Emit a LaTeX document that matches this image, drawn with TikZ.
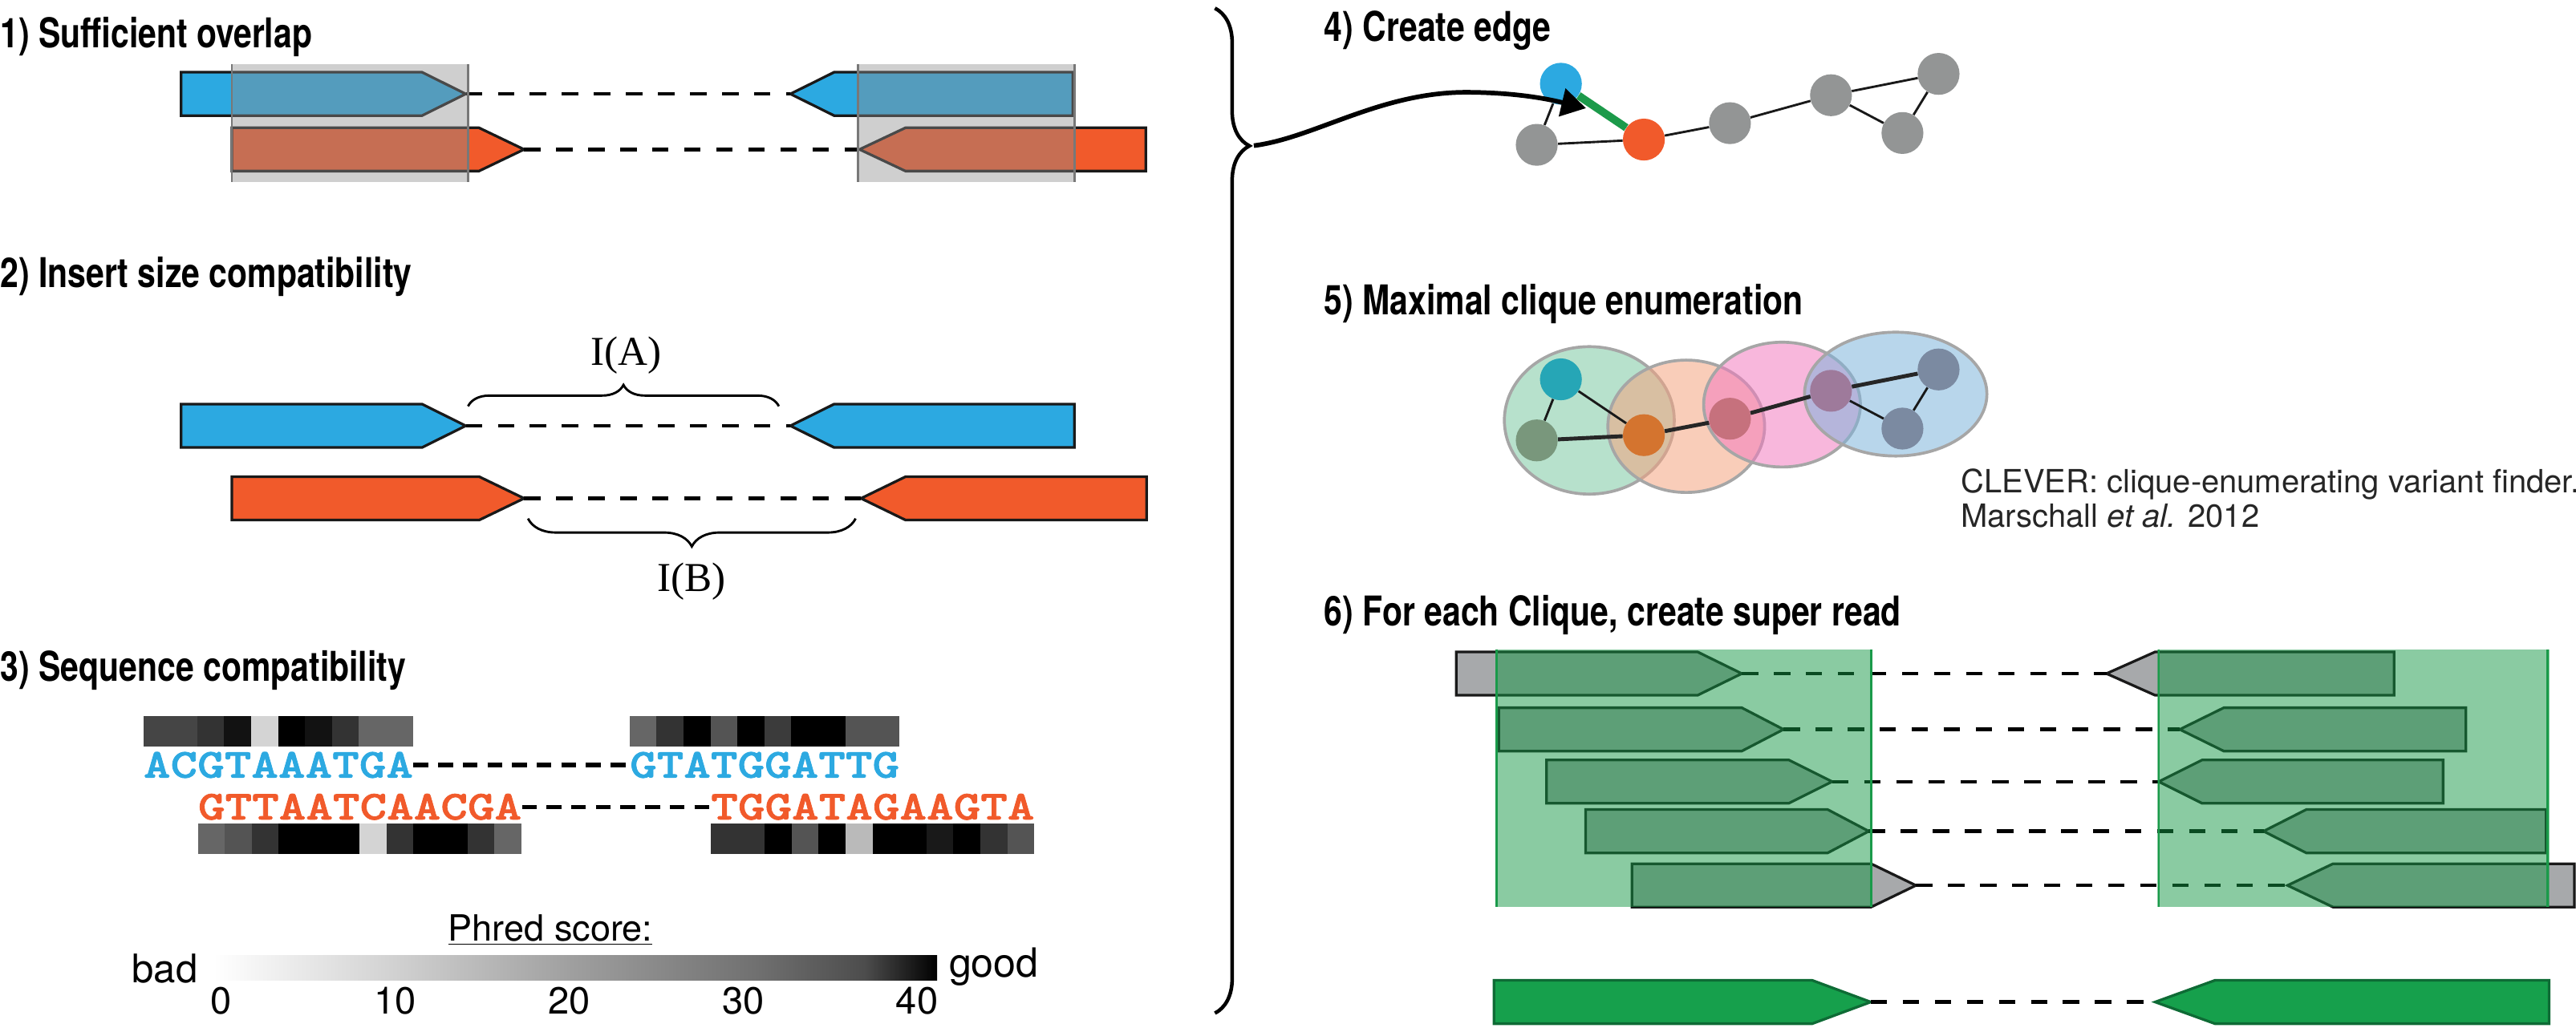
\documentclass[tikz,border=0pt]{standalone}
\usepackage{fontspec}
\usetikzlibrary{arrows.meta, decorations.pathreplacing}

\newfontfamily\titlefont{TeX Gyre Heros}[FakeStretch=0.8]
\newfontfamily\labelfont{TeX Gyre Heros}
\newfontfamily\insertfont{Liberation Serif}
\newfontfamily\seqfont{lmmonolt10-bold.otf}[FakeStretch=1.25, FakeBold=1.6]

\definecolor{readblue}{RGB}{44,169,225}
\definecolor{readorange}{RGB}{241,90,43}
\definecolor{readgray}{RGB}{167,169,171}
\definecolor{readline}{RGB}{25,25,25}
\definecolor{overlapgray}{RGB}{140,140,140}
\definecolor{cliquegreen}{RGB}{21,151,69}
\definecolor{bgline}{RGB}{26,154,74}
\definecolor{superfill}{RGB}{22,160,76}
\definecolor{superline}{RGB}{14,107,53}
\definecolor{nodegray}{RGB}{147,149,149}
\definecolor{edgegreen}{RGB}{28,154,74}
\definecolor{cliqueA}{RGB}{124,200,162}
\definecolor{cliqueB}{RGB}{244,164,128}
\definecolor{cliqueC}{RGB}{242,124,191}
\definecolor{cliqueD}{RGB}{126,180,219}
\definecolor{teal}{RGB}{38,166,182}
\definecolor{sage}{RGB}{121,151,124}
\definecolor{rust}{RGB}{212,116,47}
\definecolor{rose}{RGB}{198,113,125}
\definecolor{mauve}{RGB}{158,122,155}
\definecolor{slate}{RGB}{123,138,161}

\pgfdeclarehorizontalshading{phred}{100bp}{color(0bp)=(white); color(25bp)=(white);
  color(37.5bp)=(black!18); color(50bp)=(black!38); color(62.5bp)=(black!56);
  color(70bp)=(black!70); color(75bp)=(black); color(100bp)=(black)}

% reads: style, start x, tip x, y, head length, tip name
\newcommand{\fwdread}[6]{%
  \draw[#1] (#2,#4-13.2) -- (#3-#5,#4-13.2) -- (#3,#4) -- (#3-#5,#4+13.2) -- (#2,#4+13.2) -- cycle;
  \coordinate (#6) at (#3,#4);}
% reads: style, tip x, end x, y, head length, tip name
\newcommand{\revread}[6]{%
  \draw[#1] (#2,#4) -- (#2+#5,#4-13.2) -- (#3,#4-13.2) -- (#3,#4+13.2) -- (#2+#5,#4+13.2) -- cycle;
  \coordinate (#6) at (#2,#4);}

\begin{document}
\begin{tikzpicture}[
    x=1pt, y=-1pt,
    title/.style={font=\titlefont\bfseries\fontsize{25}{30}\selectfont, inner sep=0pt, anchor=base west},
    note/.style={font=\labelfont\fontsize{19.5}{23}\selectfont, inner sep=0pt, anchor=base west, text=black!85},
    ticklabel/.style={font=\labelfont\fontsize{23}{27}\selectfont, inner sep=0pt, anchor=base},
    seq/.style={font=\seqfont\fontsize{25}{30}\selectfont, inner sep=0pt, anchor=base west},
    read/.style={draw=readline, line width=1.6pt, line join=miter},
    superread/.style={read, draw=superline, fill=superfill},
    dashlink/.style={line width=2.2pt, dash pattern=on 10pt off 9.5pt},
    seqlink/.style={line width=2.6pt, dash pattern=on 9pt off 6pt},
    overlapbox/.style={fill=overlapgray, fill opacity=0.42},
    overlapedge/.style={draw=black!53, line width=1.2pt},
    cliquebox/.style={fill=cliquegreen, fill opacity=0.5},
    cliqueedge/.style={draw=bgline, line width=1.3pt},
    curly/.style={decorate, decoration={brace, amplitude=#1}},
    gnode/.style={circle, minimum size=25.5pt, inner sep=0pt},
    gedge/.style={line width=1.4pt, black!90},
    thickedge/.style={line width=2.4pt, black!85},
    clique/.style={draw=black!35, line width=1.8pt, fill opacity=0.55},
]
\useasboundingbox (0,0) rectangle (1568,628);

% --- 1) Sufficient overlap
\node[title] (t1) at (0,29.3) {1) Sufficient overlap};
\fwdread{read, fill=readblue}{110.2}{283.5}{57.2}{26.6}{a1}
\revread{read, fill=readblue}{481.1}{653}{57.2}{26.6}{b1}
\fwdread{read, fill=readorange}{141.1}{319}{91}{27.5}{c1}
\revread{read, fill=readorange}{523.2}{697.4}{91}{28}{d1}
\draw[dashlink] (a1) -- (b1);
\draw[dashlink] (c1) -- (d1);
\fill[overlapbox] (141.1,39.1) rectangle (284.9,111);
\fill[overlapbox] (522.2,39.1) rectangle (654,111);
\draw[overlapedge] (141.1,39.1) -- (141.1,111) (284.9,39.1) -- (284.9,111);
\draw[overlapedge] (522.2,39.1) -- (522.2,111) (654,39.1) -- (654,111);

% --- 2) Insert size compatibility
\node[title] (t2) at (0,175) {2) Insert size compatibility};
\fwdread{read, fill=readblue}{110.2}{283.5}{259.3}{26.6}{a2}
\revread{read, fill=readblue}{481.1}{654}{259.3}{26.6}{b2}
\fwdread{read, fill=readorange}{141.1}{319}{303.5}{27.3}{c2}
\revread{read, fill=readorange}{524.1}{697.9}{303.5}{27.1}{d2}
\draw[dashlink] (a2) -- (b2);
\draw[dashlink] (c2) -- (d2);
\draw[curly=13pt, line width=1.4pt] (284.9,247.4) -- (474.1,247.4);
\draw[curly=17pt, line width=1.4pt] (520.8,315.8) -- (321.4,315.8);
\node[font=\insertfont\fontsize{25}{30}\selectfont, inner sep=0pt, anchor=base] (ia) at (381,222.2) {I(A)};
\node[font=\insertfont\fontsize{25}{30}\selectfont, inner sep=0pt, anchor=base] (ib) at (421,360.3) {I(B)};

% --- 3) Sequence compatibility
\node[title] (t3) at (0,415) {3) Sequence compatibility};
\foreach \g [count=\i from 0] in {73,73,80,93,17,100,93,80,60,60}
  \fill[black!\g] (87.2+\i*16.41,436.2) rectangle ++(16.41,18.5);
\foreach \g [count=\i from 0] in {60,80,100,67,100,77,100,100,67,67}
  \fill[black!\g] (383.2+\i*16.41,436.2) rectangle ++(16.41,18.5);
\foreach \g [count=\i from 0] in {60,67,80,100,100,100,17,80,100,100,80,60}
  \fill[black!\g] (120.4+\i*16.41,501.5) rectangle ++(16.41,18.8);
\foreach \g [count=\i from 0] in {80,80,100,67,100,27,100,100,90,100,80,67}
  \fill[black!\g] (432.6+\i*16.41,501.5) rectangle ++(16.41,18.8);
\node[seq, text=readblue] (s1) at (87.2,473.5) {ACGTAAATGA};
\node[seq, text=readblue] (s2) at (383.2,473.5) {GTATGGATTG};
\node[seq, text=readorange] (s3) at (120.4,499) {GTTAATCAACGA};
\node[seq, text=readorange] (s4) at (432.6,499) {TGGATAGAAGTA};
\draw[seqlink] (s1) -- (s2);
\draw[seqlink] (s3) -- (s4);

% Phred scale
\node[font=\labelfont\fontsize{22}{26}\selectfont, inner sep=0pt, anchor=base] (phred) at (335,573.2) {\underline{Phred score:}};
\shade[shading=phred] (130,581.6) rectangle (570.4,597.1);
\node[font=\labelfont\fontsize{24}{28}\selectfont, inner sep=0pt, anchor=base east] (bad) at (120.5,598.4) {bad};
\node[font=\labelfont\fontsize{24.5}{28}\selectfont, inner sep=0pt, anchor=base west] (good) at (577.5,595.2) {good};
\foreach \v [count=\i from 0] in {0,10,20,30,40}
  \node[ticklabel] (tick\i) at (134.8+\i*105.85,617.3) {\v};

% --- big brace and arrow to the graph
\draw[curly=21pt, decoration={aspect=0.137}, line width=2.2pt] (739.5,5) -- (739.5,617);
\coordinate (bracetip) at (763.2,88.7);
\coordinate (arrowend) at (965.4,65.9);

% --- 4) Create edge
\node[title] (t4) at (806,25) {4) Create edge};
\node[gnode, fill=readblue] (e1) at (950.1,51) {};
\node[gnode, fill=nodegray] (e2) at (935.4,88.2) {};
\node[gnode, fill=readorange] (e3) at (1000.6,85) {};
\node[gnode, fill=nodegray] (e4) at (1053,75) {};
\node[gnode, fill=nodegray] (e5) at (1114.5,58) {};
\node[gnode, fill=nodegray] (e6) at (1180,45) {};
\node[gnode, fill=nodegray] (e7) at (1158,81) {};
\draw[gedge] (e1) -- (e2);
\draw[gedge] (e2) -- (e3);
\draw[gedge] (e3) -- (e4);
\draw[gedge] (e4) -- (e5);
\draw[gedge] (e5) -- (e6);
\draw[gedge] (e5) -- (e7);
\draw[gedge] (e6) -- (e7);
\draw[line width=4.8pt, edgegreen] (e1) -- (e3);
\draw[line width=2.8pt, -{Triangle[length=15pt, width=17pt]}] (bracetip)
  .. controls (800,84) and (840,56.2) .. (892.5,56.2)
  .. controls (925,56.3) and (945,61) .. (arrowend);

% --- 5) Maximal clique enumeration
\node[title] (t5) at (806,191.5) {5) Maximal clique enumeration};
\filldraw[clique, fill=cliqueA] (967.4,256) ellipse [x radius=51.7, y radius=44.9];
\filldraw[clique, fill=cliqueB] (1026.4,259.6) ellipse [x radius=47.7, y radius=40.3];
\filldraw[clique, fill=cliqueC] (1084.7,246.4) ellipse [x radius=47.7, y radius=38];
\filldraw[clique, fill=cliqueD] (1153.9,240) ellipse [x radius=55.5, y radius=37.7];
\node[gnode, fill=teal] (c1) at (950.1,231) {};
\node[gnode, fill=sage] (c2) at (935.4,268.2) {};
\node[gnode, fill=rust] (c3) at (1000.6,265) {};
\node[gnode, fill=rose] (c4) at (1053,255) {};
\node[gnode, fill=mauve] (c5) at (1114.5,238) {};
\node[gnode, fill=slate] (c6) at (1180,225) {};
\node[gnode, fill=slate] (c7) at (1158,261) {};
\draw[gedge] (c1) -- (c2);
\draw[gedge] (c1) -- (c3);
\draw[thickedge] (c2) -- (c3);
\draw[thickedge] (c3) -- (c4);
\draw[thickedge] (c4) -- (c5);
\draw[thickedge] (c5) -- (c6);
\draw[gedge] (c5) -- (c7);
\draw[gedge] (c6) -- (c7);
\node[note] (clever1) at (1193.5,300) {CLEVER: clique-enumerating variant finder.};
\node[note] (clever2) at (1193.5,321) {Marschall \textit{et al.} 2012};

% --- 6) For each Clique, create super read
\node[title] (t6) at (806,381) {6) For each Clique, create super read};
\fwdread{read, fill=readgray}{886.4}{1060.2}{410.2}{26.9}{l1}
\fwdread{read, fill=readgray}{912.3}{1085.6}{444.2}{25.4}{l2}
\fwdread{read, fill=readgray}{941.4}{1115.2}{476}{26.4}{l3}
\fwdread{read, fill=readgray}{965.1}{1137.5}{506.2}{25}{l4}
\fwdread{read, fill=readgray}{993.3}{1166.2}{539.2}{27.3}{l5}
\revread{read, fill=readgray}{1282.2}{1457.2}{410.2}{29.6}{r1}
\revread{read, fill=readgray}{1326.8}{1501}{444.2}{26.8}{r2}
\revread{read, fill=readgray}{1314}{1487.1}{476}{26.4}{r3}
\revread{read, fill=readgray}{1377.8}{1549.8}{506.2}{26}{r4}
\revread{read, fill=readgray}{1392.4}{1567}{539.2}{27.7}{r5}
\foreach \k in {1,...,5}
  \draw[dashlink] (l\k) -- (r\k);
\fill[cliquebox] (910.5,395.4) rectangle (1138.9,552.3);
\fill[cliquebox] (1313.1,395.4) rectangle (1551.9,552.3);
\draw[cliqueedge] (911,395.4) -- (911,552.3) (1138.9,395.4) -- (1138.9,552.3);
\draw[cliqueedge] (1314,395.4) -- (1314,552.3) (1550.8,395.4) -- (1550.8,552.3);

% super read
\fwdread{superread}{909.4}{1138.7}{610.2}{35.6}{sl}
\revread{superread}{1311.8}{1551.6}{610.2}{36.4}{sr}
\draw[dashlink] (sl) -- (sr);

\end{tikzpicture}
\end{document}
